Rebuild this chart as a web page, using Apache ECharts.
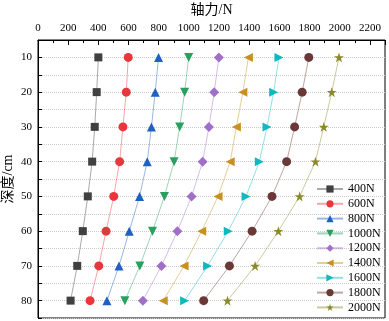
<!DOCTYPE html>
<html>
<head>
<meta charset="utf-8">
<script src="https://cdn.jsdelivr.net/npm/echarts@6/dist/echarts.min.js"></script>
<style>
  html, body { margin: 0; padding: 0; background: #fff; }
  #chart { width: 389px; height: 321px; }
</style>
</head>
<body>
<div id="chart"></div>
<script>
// 深度 (cm)
const depths = [10, 20, 30, 40, 50, 60, 70, 80];
const loadNames = ['400N', '600N', '800N', '1000N', '1200N', '1400N', '1600N', '1800N', '2000N'];

// 轴力 (N) per load
const f400 = [400, 389, 376, 359, 330, 297, 260, 216];
const f600 = [598, 585, 563, 541, 502, 451, 403, 345];
const f800 = [799, 777, 752, 724, 673, 605, 537, 457];
const f1000 = [999, 972, 939, 902, 838, 759, 675, 576];
const f1200 = [1199, 1168, 1133, 1091, 1018, 924, 818, 695];
const f1400 = [1395, 1358, 1315, 1274, 1193, 1085, 968, 830];
const f1600 = [1597, 1562, 1518, 1467, 1379, 1261, 1124, 972];
const f1800 = [1795, 1751, 1701, 1648, 1551, 1419, 1269, 1098];
const f2000 = [1995, 1947, 1894, 1839, 1734, 1593, 1439, 1256];

const allForces = [f400, f600, f800, f1000, f1200, f1400, f1600, f1800, f2000];
const colors = ['#404040', '#e8373c', '#2060c0', '#28a060', '#a070c8', '#c89020', '#10b8c0', '#6b3838', '#8a8a2a'];
const symbols = ['rect', 'circle', 'triangle', 'path://M0,0 L10,0 L5,9 Z', 'diamond',
  'path://M9,0 L9,10 L0,5 Z', 'path://M0,0 L0,10 L9,5 Z', 'circle',
  'path://M5,0 L6.2,3.6 L10,3.6 L6.9,5.8 L8.1,9.5 L5,7.2 L1.9,9.5 L3.1,5.8 L0,3.6 L3.8,3.6 Z'];
const symbolSizes = [8, 9, 9, 9, 10, 9, 9, 9, 10];

const font = '"Liberation Serif", "Noto Sans CJK SC", serif';

const chart = echarts.init(document.getElementById('chart'));

const series = allForces.map((vals, i) => ({
  name: loadNames[i],
  type: 'line',
  data: vals.map((v, k) => [v, depths[k]]),
  symbol: symbols[i],
  symbolSize: symbolSizes[i],
  itemStyle: { color: colors[i] },
  lineStyle: { color: colors[i], width: 1, opacity: 0.45 },
  animation: false
}));

chart.setOption({
  animation: false,
  grid: {
    left: 38, top: 40, right: 4, bottom: 3,
    containLabel: false,
    outerBoundsMode: 'none',
    show: true, borderColor: '#000', borderWidth: 1
  },
  legend: {
    orient: 'vertical',
    left: 316,
    top: 183,
    itemWidth: 26,
    itemHeight: 9,
    itemGap: 2.8,
    padding: 0,
    data: loadNames,
    textStyle: { fontFamily: font, fontSize: 12, lineHeight: 12, color: '#000' }
  },
  xAxis: {
    type: 'value',
    position: 'top',
    min: 0, max: 2300, interval: 200,
    name: '轴力/N',
    nameLocation: 'middle',
    nameGap: 23,
    nameMoveOverlap: false,
    nameTextStyle: { fontFamily: font, fontSize: 14, color: '#000' },
    axisLine: { lineStyle: { color: '#000', width: 1 } },
    axisTick: { inside: true, length: 5, lineStyle: { color: '#000' } },
    minorTick: { show: true, splitNumber: 2, length: 3, lineStyle: { color: '#000' } },
    axisLabel: {
      fontFamily: font, fontSize: 11, color: '#000', margin: 6, showMaxLabel: false,
      formatter: v => String(v)
    },
    splitLine: { show: false }
  },
  yAxis: {
    type: 'value',
    inverse: true,
    min: 5, max: 85, interval: 5,
    name: '深度/cm',
    nameLocation: 'middle',
    nameGap: 23,
    nameMoveOverlap: false,
    nameTextStyle: { fontFamily: font, fontSize: 14, color: '#000' },
    axisLine: { lineStyle: { color: '#000', width: 1 } },
    axisTick: { inside: true, length: 4, lineStyle: { color: '#000' } },
    axisLabel: {
      fontFamily: font, fontSize: 11, color: '#000', margin: 6,
      formatter: v => (v % 10 === 0 ? String(v) : '')
    },
    splitLine: { show: true, lineStyle: { color: '#ccc', type: 'dotted', width: 1 } }
  },
  series: series
});
</script>
</body>
</html>
